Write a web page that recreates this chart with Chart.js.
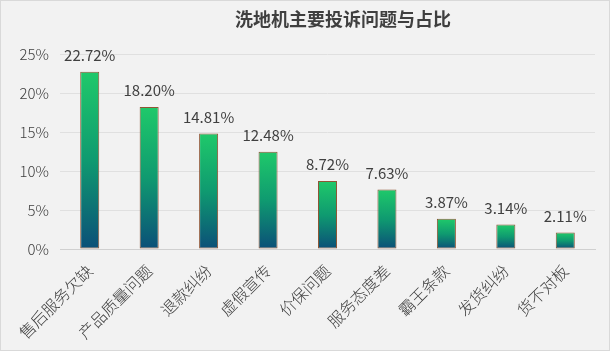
<!DOCTYPE html>
<html>
<head>
<meta charset="utf-8">
<script src="https://cdn.jsdelivr.net/npm/chart.js@4.4.1/dist/chart.umd.min.js"></script>
<style>
  html, body { margin: 0; padding: 0; background: #f2f2f2; }
  #wrap { width: 608px; height: 349px; border: 1px solid #d9d9d9; background: #f2f2f2; }
</style>
</head>
<body>
<div id="wrap"><canvas id="c" width="608" height="349"></canvas></div>
<script>
// 洗地机投诉问题
const categories = ['售后服务欠缺', '产品质量问题', '退款纠纷', '虚假宣传', '价保问题', '服务态度差', '霸王条款', '发货纠纷', '货不对板'];
const shares = [22.72, 18.20, 14.81, 12.48, 8.72, 7.63, 3.87, 3.14, 2.11];
const yTicks = [0, 5, 10, 15, 20, 25];
const chartTitle = '洗地机主要投诉问题与占比';

const fontFamily = '"Noto Sans CJK SC", "Noto Sans", sans-serif';

// each bar gets its own green -> blue gradient
function barGradient(ctx) {
  const chart = ctx.chart;
  const area = chart.chartArea;
  if (!area || ctx.dataIndex === undefined) return '#1ec86b';
  const y = chart.scales.y;
  const top = y.getPixelForValue(shares[ctx.dataIndex]);
  const bottom = y.getPixelForValue(0);
  const g = chart.ctx.createLinearGradient(0, top, 0, bottom);
  g.addColorStop(0, '#1fc96a');
  g.addColorStop(0.5, '#0f9a70');
  g.addColorStop(1, '#0b4f78');
  return g;
}

const valueLabels = {
  id: 'valueLabels',
  afterDatasetsDraw(chart) {
    const c = chart.ctx;
    const meta = chart.getDatasetMeta(0);
    c.save();
    c.font = '15px ' + fontFamily;
    c.fillStyle = '#404040';
    c.textAlign = 'center';
    c.textBaseline = 'bottom';
    meta.data.forEach((bar, i) => {
      c.fillText(shares[i].toFixed(2) + '%', bar.x, bar.y - 9);
    });
    // title, sits a bit right of centre like the original
    c.font = 'bold 18px ' + fontFamily;
    c.fillStyle = '#3f3f3f';
    c.textBaseline = 'middle';
    c.fillText(chartTitle, 342, 18);
    c.restore();
  }
};

new Chart(document.getElementById('c'), {
  type: 'bar',
  data: {
    labels: categories,
    datasets: [{
      data: shares,
      backgroundColor: barGradient,
      borderColor: '#8e5635',
      borderWidth: 1,
      borderSkipped: false,
      categoryPercentage: 0.64,
      barPercentage: 0.5
    }]
  },
  options: {
    responsive: false,
    animation: false,
    layout: { padding: { left: 0, right: 14, top: 53, bottom: 1 } },
    plugins: {
      legend: { display: false },
      tooltip: { enabled: false },
      title: { display: false }
    },
    scales: {
      x: {
        grid: { display: false },
        border: { color: '#d0d0d0' },
        afterFit(axis) { axis.height = 100; axis.paddingLeft = 0; axis.paddingRight = 0; },
        ticks: {
          color: '#404040',
          font: { family: fontFamily, size: 16, weight: 300 },
          maxRotation: 45,
          minRotation: 45,
          autoSkip: false,
          padding: 4
        }
      },
      y: {
        min: 0,
        max: 25,
        afterBuildTicks(axis) { axis.ticks = yTicks.map(v => ({ value: v })); },
        afterFit(axis) { axis.width = 59; axis.paddingTop = 0; axis.paddingBottom = 0; },
        grid: { color: '#e0e0e0', drawTicks: false },
        border: { display: false },
        ticks: {
          color: '#404040',
          font: { family: fontFamily, size: 15, weight: 300 },
          padding: 11,
          callback: v => v + '%'
        }
      }
    }
  },
  plugins: [valueLabels]
});
</script>
</body>
</html>
